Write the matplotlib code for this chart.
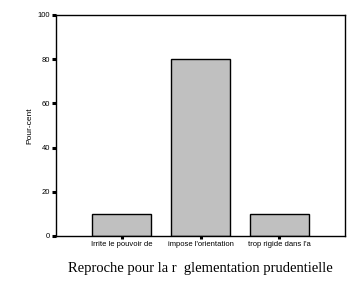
import matplotlib
matplotlib.use("Agg")
import matplotlib.pyplot as plt

categories = ["Irrite le pouvoir de", "impose l'orientation", "trop rigide dans l'a"]
pour_cent = [10, 80, 10]
yticks = [0, 20, 40, 60, 80, 100]

fig = plt.figure(figsize=(3.6, 2.88), dpi=100)
ax = fig.add_axes([0.156, 0.181, 0.802, 0.767])

x = range(len(categories))
ax.bar(x, pour_cent, width=0.74, color="#c0c0c0", edgecolor="black", linewidth=1.0)

ax.set_xlim(-0.83, 2.83)
ax.set_ylim(0, 100)
ax.set_yticks(yticks)
ax.set_yticklabels([str(v) for v in yticks], fontsize=5.5, family="Liberation Sans")
ax.set_xticks(list(x))
ax.set_xticklabels(categories, fontsize=5.5, family="Liberation Sans")
ax.tick_params(axis="y", length=3, width=2.2, pad=1.5, direction="out")
ax.tick_params(axis="x", length=2, width=2.2, pad=2, direction="out")
for s in ax.spines.values():
    s.set_linewidth(1.0)

ax.set_ylabel("Pour-cent", fontsize=6, family="Liberation Sans", labelpad=3)
ax.set_xlabel("Reproche pour la r  glementation prudentielle", fontsize=10.5,
              family="Liberation Serif", labelpad=10)

fig.savefig("out.png", dpi=100)
